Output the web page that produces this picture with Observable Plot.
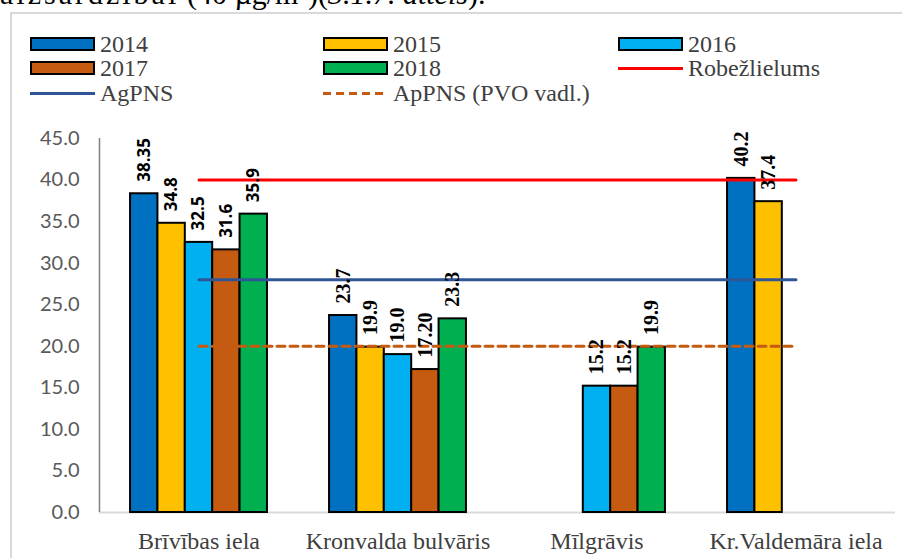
<!DOCTYPE html>
<html>
<head>
<meta charset="utf-8">
<script src="https://cdn.jsdelivr.net/npm/d3@7"></script>
<script src="https://cdn.jsdelivr.net/npm/@observablehq/plot@0.6"></script>
<style>
  html, body { margin: 0; padding: 0; background: #fff; }
  body { width: 902px; height: 558px; overflow: hidden; position: relative; }
  #toptext { position: absolute; top: -21px; left: 0px; font: 30px "Liberation Serif", serif; color: #000; white-space: nowrap; line-height: 30px; }
  #toptext .pre { display: inline-block; width: 187px; text-align: left; letter-spacing: 3px; }
  #toptext .sup { position: relative; top: -11px; font-size: 19px; }
  #frame { position: absolute; left: 10px; top: 12px; width: 1200px; height: 1200px; border: 2px solid #d9d9d9; box-sizing: border-box; }
  .leg { position: absolute; font: 24px "Liberation Serif", serif; color: #404040; line-height: 24px; white-space: nowrap; }
  .sw { position: absolute; width: 65px; height: 14px; border: 2px solid #000; box-sizing: border-box; }
  .ln { position: absolute; width: 65px; height: 0; }
  #chart { position: absolute; left: 0; top: 110px; }
  #chart svg [aria-label^="x-axis"] text { font: 24px "Liberation Serif", serif; fill: #404040; }
  #chart svg [aria-label^="y-axis"] text { font: 20px Lato, sans-serif; fill: #595959; }
</style>
</head>
<body>
<div id="toptext"><span class="pre">aizsardzībai</span>(40 µg/m<span class="sup">3</span>)(<i>3.1.7. attēls</i>).</div>
<div id="frame"></div>
<div id="legend"></div>
<div id="chart"></div>
<script>
// ---- data ----
const categories = ["Brīvības iela", "Kronvalda bulvāris", "Mīlgrāvis", "Kr.Valdemāra iela"];
const years = ["2014", "2015", "2016", "2017", "2018"];
const yearColors = ["#0070C0", "#FFC000", "#00B0F0", "#C55A11", "#00B050"];
const v2014 = [38.35, 23.7, null, 40.2];
const v2015 = [34.8, 19.9, null, 37.4];
const v2016 = [32.5, 19.0, 15.2, null];
const v2017 = [31.6, 17.2, 15.2, null];
const v2018 = [35.9, 23.3, 19.9, null];
const l2014 = ["38.35", "23.7", null, "40.2"];
const l2015 = ["34.8", "19.9", null, "37.4"];
const l2016 = ["32.5", "19.0", "15.2", null];
const l2017 = ["31.6", "17.20", "15.2", null];
const l2018 = ["35.9", "23.3", "19.9", null];
const limitNames = ["Robežlielums", "AgPNS", "ApPNS (PVO vadl.)"];
const limitValues = [40, 28, 20];
const limitColors = ["#FF0000", "#2F5597", "#C55A11"];
const limitDash = [null, null, "8,5"];
const yTicks = [0, 5, 10, 15, 20, 25, 30, 35, 40, 45];

// ---- tables ----
const series = [v2014, v2015, v2016, v2017, v2018];
const seriesLabels = [l2014, l2015, l2016, l2017, l2018];
const GROUP = 0.688, BAR = GROUP / years.length;
const bars = [];
categories.forEach((c, i) => years.forEach((y, j) => {
  const v = series[j][i];
  if (v != null) bars.push({cat: i, slot: j, year: y, value: v, label: seriesLabels[j][i],
    x1: i + 0.5 - GROUP / 2 + j * BAR, x2: i + 0.5 - GROUP / 2 + (j + 1) * BAR});
}));
bars.forEach(d => d.xc = (d.x1 + d.x2) / 2);
const limitLines = [];
limitNames.forEach((n, k) => categories.forEach((c, i) => limitLines.push({name: n, x: i + 0.5, value: limitValues[k]})));

// ---- legend ----
const legend = document.getElementById("legend");
const colX = [30, 323, 618];
const rowY = [44, 68, 93];
const legendItems = [
  ...years.map((y, j) => ({type: "bar", label: y, color: yearColors[j]})),
  {type: "line", label: limitNames[0], color: limitColors[0], dash: limitDash[0]},
  {type: "line", label: limitNames[1], color: limitColors[1], dash: limitDash[1]},
  {type: "line", label: limitNames[2], color: limitColors[2], dash: limitDash[2]}
];
legendItems.forEach((it, k) => {
  const x = colX[k % 3], cy = rowY[Math.floor(k / 3)];
  const s = document.createElement("div");
  if (it.type === "bar") {
    s.className = "sw";
    s.style.left = x + "px"; s.style.top = (cy - 7) + "px"; s.style.background = it.color;
  } else {
    s.className = "ln";
    s.style.left = x + "px"; s.style.top = (cy - 1.5) + "px";
    s.style.height = "3px";
    s.style.background = it.dash
      ? `repeating-linear-gradient(90deg, ${it.color} 0 8px, transparent 8px 13px)`
      : it.color;
  }
  legend.appendChild(s);
  const t = document.createElement("div");
  t.className = "leg"; t.textContent = it.label;
  t.style.left = (x + 70) + "px"; t.style.top = (cy - 12) + "px";
  legend.appendChild(t);
});

// ---- chart ----
const chart = Plot.plot({
  width: 902,
  height: 448,
  marginLeft: 99,
  marginRight: 7,
  marginTop: 28,
  marginBottom: 46,
  x: {type: "linear", domain: [0, categories.length], ticks: categories.map((c, i) => i + 0.5),
      tickFormat: d => categories[Math.floor(d)], tickSize: 0, tickPadding: 19, label: null},
  y: {domain: [yTicks[0], yTicks[yTicks.length - 1]], ticks: yTicks, tickFormat: d3.format(".1f"),
      tickSize: 0, tickPadding: 20, label: null},
  color: {domain: years, range: yearColors},
  marks: [
    Plot.ruleY([0], {stroke: "#d9d9d9", strokeWidth: 2}),
    Plot.ruleX([0], {stroke: "#808080", strokeWidth: 1.5}),
    Plot.rect(bars, {x1: "x1", x2: "x2", y1: 0, y2: "value", fill: "year", stroke: "#000", strokeWidth: 2}),
    ...limitNames.map((n, k) => Plot.line(limitLines.filter(d => d.name === n), {
      x: "x", y: "value", stroke: limitColors[k], strokeWidth: 3, strokeDasharray: limitDash[k]
    })),
    Plot.text(bars.filter(d => d.cat === 0), {x: "xc", y: "value", text: "label", rotate: -90, textAnchor: "start",
      dy: -12, fontFamily: "Open Sans, sans-serif", fontWeight: "bold", fontSize: 17, fill: "#000"}),
    Plot.text(bars.filter(d => d.cat !== 0), {x: "xc", y: "value", text: "label", rotate: -90, textAnchor: "start",
      dy: -12, fontFamily: "Liberation Serif, serif", fontWeight: "bold", fontSize: 20, fill: "#000"})
  ]
});
document.getElementById("chart").appendChild(chart);
</script>
</body>
</html>
